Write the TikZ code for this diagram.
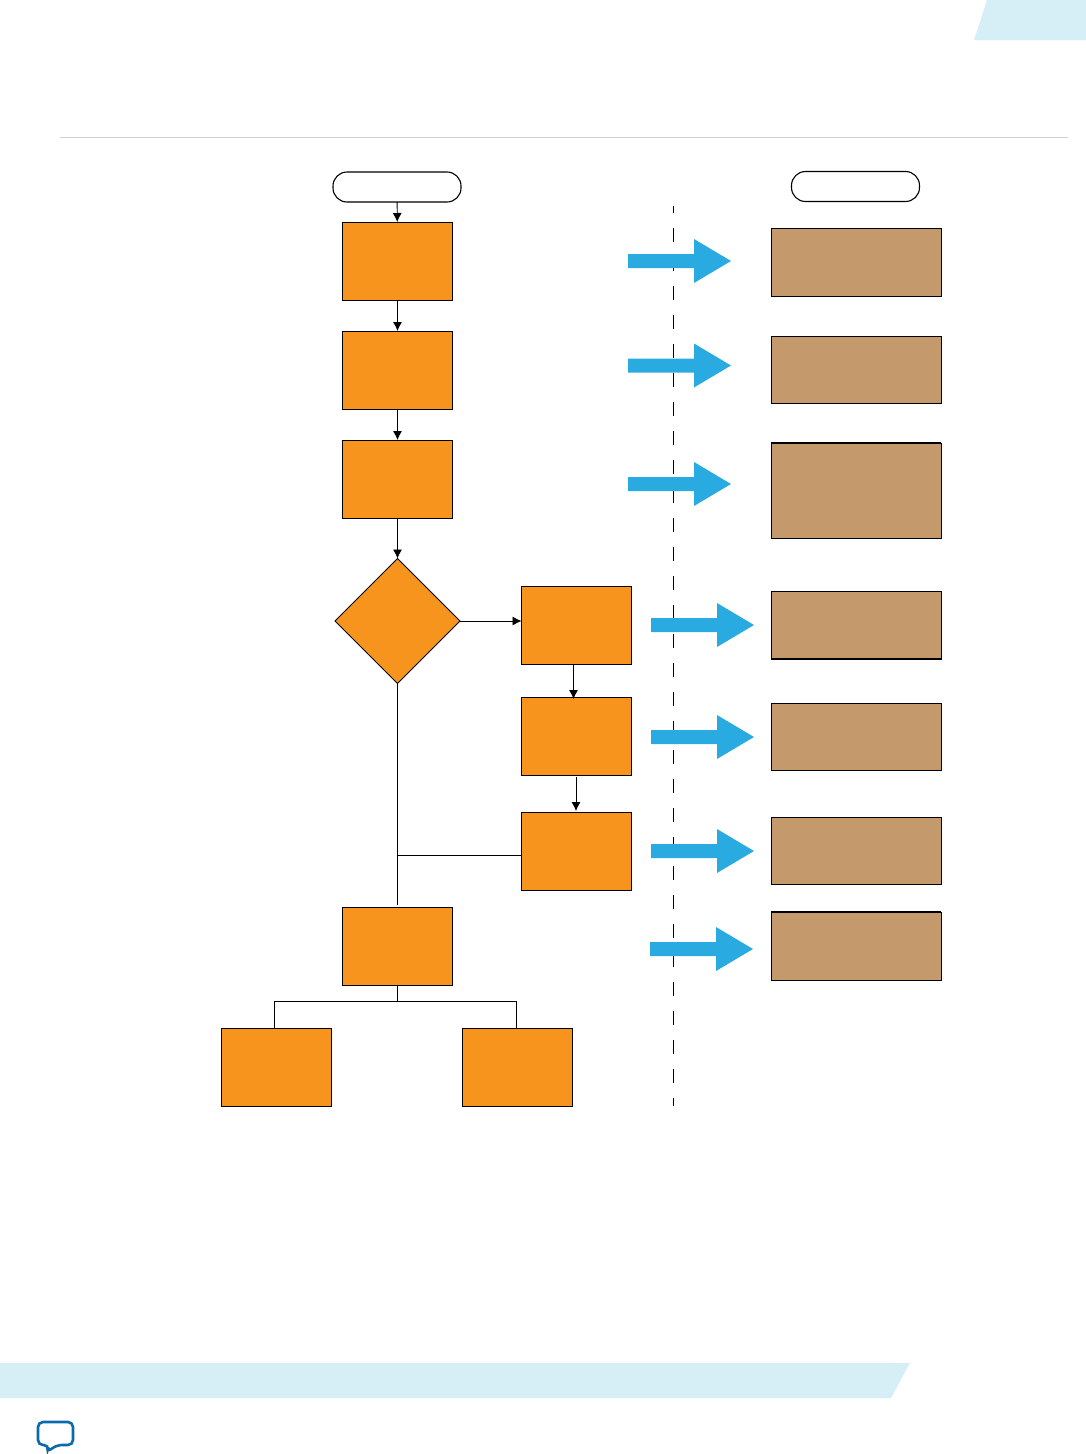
\documentclass[tikz,border=0pt]{standalone}
\usetikzlibrary{shapes.geometric,arrows.meta}
\definecolor{bandblue}{HTML}{D6EEF5}
\definecolor{stepfill}{HTML}{F7941E}
\definecolor{tanfill}{HTML}{C49A6C}
\definecolor{arrowblue}{HTML}{29ABE2}
\definecolor{bubbleblue}{HTML}{0B6AAB}
\definecolor{rulegray}{HTML}{D2D2D2}
\tikzset{
  stepbox/.style={draw=black,fill=stepfill,line width=0.9pt,minimum width=110pt,minimum height=78pt,inner sep=0pt,outer sep=0pt},
  tanbox/.style={draw=black,fill=tanfill,line width=0.9pt,minimum width=170pt,inner sep=0pt,outer sep=0pt},
  pill/.style={draw=black,fill=white,line width=1.1pt,rounded corners=14pt,minimum width=128pt,minimum height=30pt,inner sep=0pt,outer sep=0pt},
  flow/.style={line width=0.8pt,-{Latex[length=9pt,width=9pt]}},
  plainline/.style={line width=0.8pt},
  heavyedge/.style={line width=1.7pt},
}
\begin{document}
\begin{tikzpicture}[x=1pt,y=-1pt,line join=miter]
  \useasboundingbox (0,0) rectangle (1086,1454);
  \fill[bandblue] (987,0) -- (1086,0) -- (1086,40) -- (974,40) -- cycle;
  \fill[bandblue] (0,1363) -- (910,1363) -- (891,1398) -- (0,1398) -- cycle;
  \draw[rulegray,line width=0.8pt] (60,137.5) -- (1068,137.5);
  \draw[bubbleblue,line width=2.6pt,rounded corners=5pt] (38,1422) -- (73,1422) -- (73,1445)
    -- (57,1445) -- (47,1452) -- (49,1445) -- (38,1445) -- cycle;

  \draw[line width=0.8pt,dash pattern=on 14pt off 15pt,dash phase=7pt] (673,206) -- (673,1106);

  \node[pill] (start) at (397,187) {};
  \node[pill] (stop) at (855.5,186.5) {};
  \node[stepbox] (stepa) at (397.5,261) {};
  \node[stepbox] (stepb) at (397.5,370) {};
  \node[stepbox] (stepc) at (397.5,479) {};
  \node[draw=black,fill=stepfill,line width=1pt,diamond,aspect=1,minimum width=125pt,minimum height=125pt,inner sep=0pt,outer sep=0pt] (check) at (397.5,621) {};
  \node[stepbox] (sidea) at (576.5,625) {};
  \node[stepbox] (sideb) at (576.5,736) {};
  \node[stepbox] (sidec) at (576.5,851) {};
  \node[stepbox] (merge) at (397.5,946) {};
  \node[stepbox] (lefta) at (276,1067) {};
  \node[stepbox] (righta) at (517.5,1067) {};

  \node[tanbox,minimum height=68pt] (tana) at (856,262) {};
  \node[tanbox,minimum height=67pt] (tanb) at (856,369.5) {};
  \node[tanbox,minimum height=95pt] (tanc) at (856,490.5) {};
  \node[tanbox,minimum height=68pt] (tand) at (856,625) {};
  \node[tanbox,minimum height=67pt] (tane) at (856,736.5) {};
  \node[tanbox,minimum height=67pt] (tanf) at (856,850.5) {};
  \node[tanbox,minimum height=68pt] (tang) at (856,946) {};
  \draw[heavyedge] (tanc.north west) -- (tanc.north east);
  \draw[heavyedge] (tand.south west) -- (tand.south east);
  \draw[heavyedge] (tang.north west) -- (tang.north east);

  \draw[flow] (start) -- (stepa);
  \draw[flow] (stepa) -- (stepb);
  \draw[flow] (stepb) -- (stepc);
  \draw[flow] (stepc) -- (check);
  \draw[flow] (check.east) -- (check.east -| sidea.west);
  \draw[flow] ([xshift=-3pt]sidea.south) -- ([xshift=-3pt,yshift=-2pt]sideb.north);
  \draw[flow] ([xshift=-0.5pt,yshift=-2pt]sideb.south) -- ([xshift=-0.5pt,yshift=1pt]sidec.north);
  \draw[plainline] (check.south) -- ([yshift=2pt]merge.north);
  \draw[plainline] ([yshift=-4pt]sidec.west) -- ([yshift=-4pt]check.south |- sidec.west);
  \coordinate (forka) at (274.5,1001);
  \coordinate (forkb) at (516.5,1001);
  \draw[plainline] (merge.south) -- (merge.south |- forka);
  \draw[plainline] (forka |- lefta.north) -- (forka) -- (forkb) -- (forkb |- righta.north);

  \foreach \x/\y in {628/261,628/365.5,628/484,651/625,651/737,651/851,650/949} {
    \fill[arrowblue] (\x,\y-7) -- (\x+66,\y-7) -- (\x+66,\y-22) -- (\x+103,\y)
      -- (\x+66,\y+22) -- (\x+66,\y+7) -- (\x,\y+7) -- cycle;
  }
\end{tikzpicture}
\end{document}
